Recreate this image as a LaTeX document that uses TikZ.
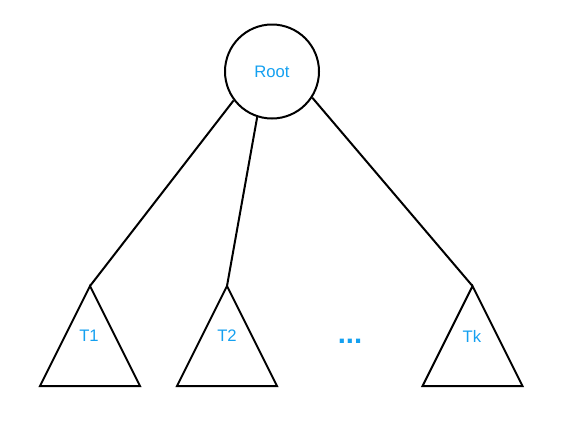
\documentclass[tikz,border=0pt]{standalone}
\usepackage{fontspec}
\setmainfont{Liberation Sans}
\definecolor{labelblue}{RGB}{20,160,240}
\tikzset{
  tree/.style={line width=1.5pt, line join=miter},
  lbl/.style={text=labelblue, font=\fontsize{12.5}{15}\selectfont, inner sep=0pt}
}
\begin{document}
\begin{tikzpicture}[x=0.75pt,y=-0.75pt]
  \useasboundingbox (0,0) rectangle (571,422);
  \node [tree, draw, circle, minimum size=70.5pt, lbl] (root) at (272,71.5) {Root};
  \coordinate (t1) at (90,286);
  \coordinate (t2) at (227,286);
  \coordinate (tk) at (472.5,286);
  \draw [tree] (t1) -- (40,386) -- (140,386) -- cycle;
  \draw [tree] (t2) -- (177,386) -- (277,386) -- cycle;
  \draw [tree] (tk) -- (422.5,386) -- (522.5,386) -- cycle;
  \node [lbl] (t1lbl) at (89,336) {T1};
  \node [lbl] (t2lbl) at (227,336) {T2};
  \node [lbl] (tklbl) at (472,336) {Tk};
  \node [lbl, font=\fontsize{22}{26}\selectfont\bfseries] (dots) at (350,341) {...};
  \draw [tree] (root.217) -- (t1);
  \draw [tree] (root.252) -- (t2);
  \draw [tree] (root.-33) -- (tk);
\end{tikzpicture}
\end{document}
